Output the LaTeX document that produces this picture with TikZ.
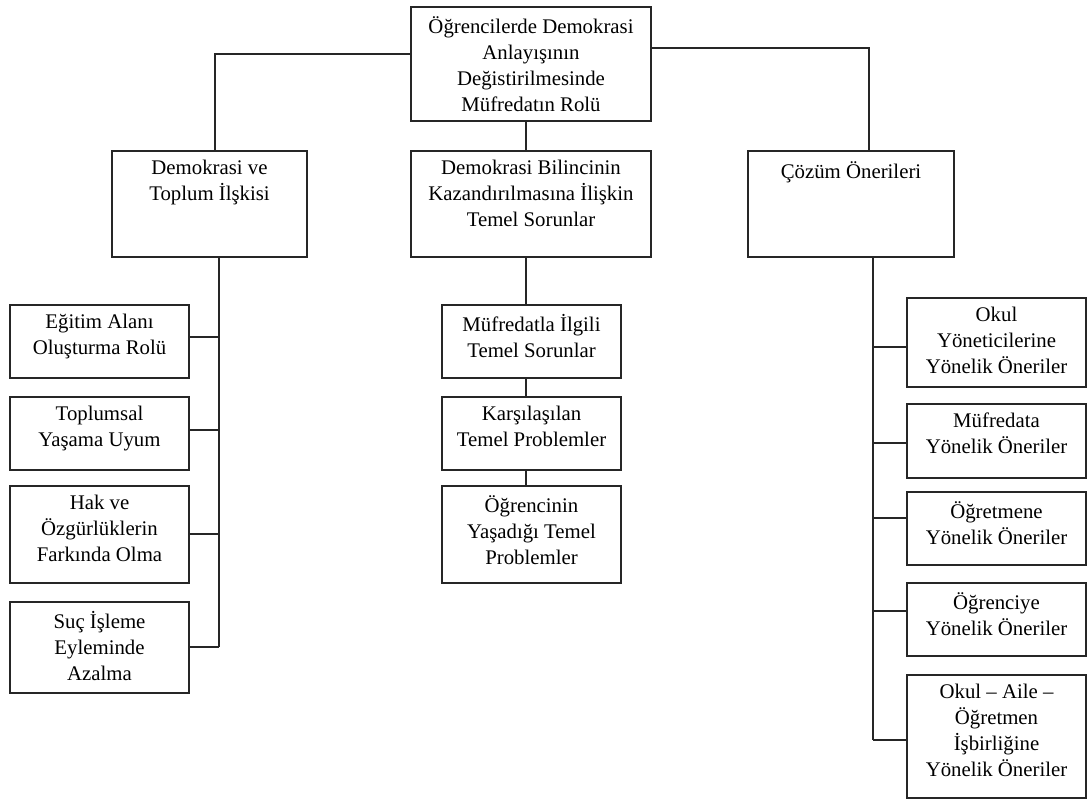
\documentclass[tikz,border=0pt]{standalone}
\usepackage{fontspec}
\setmainfont{Liberation Serif}
\tikzset{
  boxst/.style={draw=black!85, line width=0.85pt, inner sep=0pt, fill=white},
  lblst/.style={anchor=north, inner sep=0pt, yshift=-7.2pt, align=center,
    font=\fontsize{15.6}{19.5}\selectfont, execute at begin node=\strut},
  conn/.style={draw=black!85, line width=0.85pt}
}
\newcommand\bx[6]{%
  \node[boxst, minimum width={(#4-#2)*0.75pt}, minimum height={(#5-#3)*0.75pt},
    label={[lblst]north:{#6}}] (#1) at ({(#2+#4)/2},{(#3+#5)/2}) {};}
\begin{document}
\begin{tikzpicture}[x=0.75pt,y=-0.75pt]
\useasboundingbox[fill=white] (0,0) rectangle (1088,804);
% top
\bx{top}{411}{7}{651}{121}{Öğrencilerde Demokrasi\\Anlayışının\\Değistirilmesinde\\Müfredatın Rolü}
% level 2
\bx{L}{112}{151}{307}{257}{Demokrasi ve\\Toplum İlşkisi}
\bx{M}{411}{151}{651}{257}{Demokrasi Bilincinin\\Kazandırılmasına İlişkin\\Temel Sorunlar}
\bx{R}{748}{151}{954}{257}{Çözüm Önerileri}
% left children
\bx{L1}{10}{305}{189}{378}{Eğitim Alanı\\Oluşturma Rolü}
\bx{L2}{10}{397}{189}{470}{Toplumsal\\Yaşama Uyum}
\bx{L3}{10}{486}{189}{583}{Hak ve\\Özgürlüklerin\\Farkında Olma}
\bx{L4}{10}{602}{189}{693}{Suç İşleme\\Eyleminde\\Azalma}
% middle children
\bx{M1}{442}{305}{621}{378}{Müfredatla İlgili\\Temel Sorunlar}
\bx{M2}{442}{397}{621}{470}{Karşılaşılan\\Temel Problemler}
\bx{M3}{442}{486}{621}{583}{Öğrencinin\\Yaşadığı Temel\\Problemler}
% right children
\bx{R1}{907}{298}{1086}{387}{Okul\\Yöneticilerine\\Yönelik Öneriler}
\bx{R2}{907}{404}{1086}{478}{Müfredata\\Yönelik Öneriler}
\bx{R3}{907}{492}{1086}{565}{Öğretmene\\Yönelik Öneriler}
\bx{R4}{907}{583}{1086}{656}{Öğrenciye\\Yönelik Öneriler}
\bx{R5}{907}{675}{1086}{798}{Okul – Aile –\\Öğretmen\\İşbirliğine\\Yönelik Öneriler}
% connectors from top
\draw[conn] (top.west |- 0,54) -| (L.north -| 215,0);
\draw[conn] (top.east |- 0,48) -| (R.north -| 869,0);
\draw[conn] (top.south -| 526,0) -- (M.north -| 526,0);
% left branch
\coordinate (Lend) at (219,647);
\draw[conn] (L.south -| Lend) -- (Lend);
\foreach \n/\y in {L1/337,L2/430,L3/534,L4/647}
  \draw[conn] (\n.east |- 0,\y) -- (Lend |- 0,\y);
% middle chain
\draw[conn] (M.south -| 526,0) -- (M1.north -| 526,0);
\draw[conn] (M1.south -| 526,0) -- (M2.north -| 526,0);
\draw[conn] (M2.south -| 526,0) -- (M3.north -| 526,0);
% right branch
\coordinate (Rend) at (873,740);
\draw[conn] (R.south -| Rend) -- (Rend);
\foreach \n/\y in {R1/347,R2/443,R3/518,R4/611,R5/740}
  \draw[conn] (\n.west |- 0,\y) -- (Rend |- 0,\y);
\end{tikzpicture}
\end{document}
